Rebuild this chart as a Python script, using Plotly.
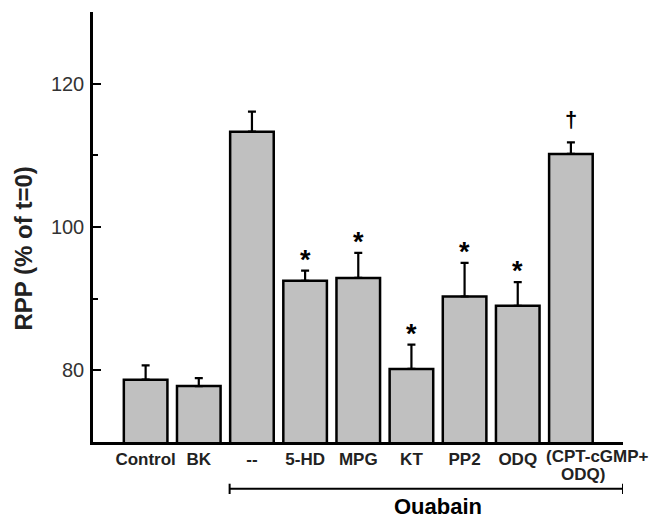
import plotly.graph_objects as go

categories = ["Control", "BK", "--", "5-HD", "MPG", "KT", "PP2", "ODQ", "(CPT-cGMP+ODQ)"]
tick_text = ["Control", "BK", "--", "5-HD", "MPG", "KT", "PP2", "ODQ", ""]
rpp_mean = [78.7, 77.8, 113.3, 92.5, 92.9, 80.2, 90.3, 89.0, 110.2]
rpp_sem = [2.0, 1.1, 2.8, 1.4, 3.5, 3.4, 4.7, 3.3, 1.6]
marks = ["", "", "", "*", "*", "*", "*", "*", "†"]
y_ticks = [80, 100, 120]

FONT = "Liberation Sans, Arial, sans-serif"
idx = list(range(len(categories)))

fig = go.Figure()
fig.add_trace(go.Bar(
    x=idx, y=rpp_mean, width=0.82,
    marker=dict(color="#c0c0c0", line=dict(color="black", width=2.5)),
    error_y=dict(type="data", array=rpp_sem, arrayminus=[0]*len(rpp_sem),
                 symmetric=False, color="black", thickness=2.2, width=4),
    showlegend=False,
))

for i, (m, v, e) in enumerate(zip(marks, rpp_mean, rpp_sem)):
    if m:
        fig.add_annotation(x=i, y=v + e, text="<b>%s</b>" % m, showarrow=False,
                           yanchor="bottom", yshift=-6 if m == "*" else 8,
                           font=dict(family=FONT, size=27 if m == "*" else 22, color="black"))

# last category label in two lines, as in the original
fig.add_annotation(x=8, y=0, xref="x", yref="paper", xanchor="left", yanchor="top",
                   xshift=-27, yshift=-3, showarrow=False, text="<b>(CPT-cGMP+</b>",
                   font=dict(family=FONT, size=17, color="#222"))
fig.add_annotation(x=8, y=0, xref="x", yref="paper", xanchor="center", yanchor="top",
                   xshift=12, yshift=-21, showarrow=False, text="<b>ODQ)</b>",
                   font=dict(family=FONT, size=17, color="#222"))

# Ouabain bracket
fig.add_shape(type="line", xref="x", yref="paper", x0=1.58, x1=8.98, y0=-0.109, y1=-0.109,
              line=dict(color="black", width=2))
for xx in (1.58, 8.98):
    fig.add_shape(type="line", xref="x", yref="paper", x0=xx, x1=xx, y0=-0.097, y1=-0.121,
                  line=dict(color="black", width=2))
fig.add_annotation(x=0.5, xref="paper", y=-0.184, yref="paper", xanchor="center", yanchor="bottom",
                   text="<b>Ouabain</b>", showarrow=False, xshift=80,
                   font=dict(family=FONT, size=22, color="black"))

# y title
fig.add_annotation(x=0, xref="paper", y=0.45, yref="paper", xanchor="center", yanchor="middle",
                   xshift=-70, textangle=-90, showarrow=False, text="<b>RPP (% of t=0)</b>",
                   font=dict(family=FONT, size=24, color="#222"))

fig.update_layout(
    width=652, height=523,
    margin=dict(l=93, r=29, t=12, b=81),
    plot_bgcolor="white", paper_bgcolor="white",
    font=dict(family=FONT, color="black"),
)
fig.update_xaxes(
    range=[-0.99, 8.98], tickmode="array", tickvals=idx,
    ticktext=["<b>%s</b>" % c for c in tick_text],
    tickfont=dict(family=FONT, size=17, color="#222"),
    showline=True, linecolor="black", linewidth=2.5, ticks="", showgrid=False,
    zeroline=False, tickangle=0,
)
fig.update_yaxes(
    range=[70, 130], tickmode="array", tickvals=y_ticks,
    ticks="inside", ticklen=8, tickwidth=2, tickcolor="black",
    minor=dict(tickvals=[90, 110], ticks="inside", ticklen=5, tickwidth=2, tickcolor="black"),
    tickfont=dict(family=FONT, size=20, color="#333"), ticklabelstandoff=2,
    showline=True, linecolor="black", linewidth=2.5, showgrid=False, zeroline=False,
)

fig.write_html("out.html")
